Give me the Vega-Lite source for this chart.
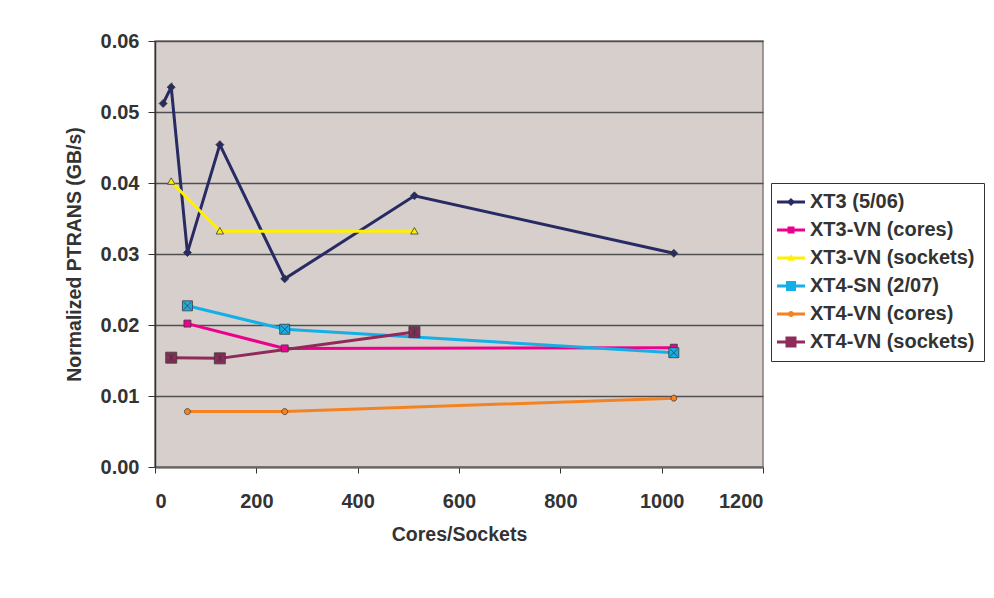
{
  "$schema": "https://vega.github.io/schema/vega-lite/v6.json",
  "width": 608,
  "height": 426,
  "autosize": {"type": "none"},
  "padding": {"left": 155, "top": 41, "right": 231, "bottom": 131},
  "background": "#ffffff",
  "config": {
    "font": "Liberation Sans",
    "view": {"fill": "#d7cfcc", "stroke": "#857c7a", "strokeWidth": 1.5},
    "axis": {
      "labelFont": "Liberation Sans",
      "labelFontWeight": "bold",
      "labelFontSize": 20,
      "labelColor": "#333333",
      "titleFont": "Liberation Sans",
      "titleFontWeight": "bold",
      "titleFontSize": 19.5,
      "titleColor": "#333333"
    },
    "legend": {
      "labelFont": "Liberation Sans",
      "labelFontWeight": "bold",
      "labelFontSize": 20,
      "labelColor": "#333333",
      "labelLimit": 300
    }
  },
  "data": {
    "values": [
      {"series": "XT3 (5/06)", "n": 16, "bw": 0.0512},
      {"series": "XT3 (5/06)", "n": 32, "bw": 0.0535},
      {"series": "XT3 (5/06)", "n": 64, "bw": 0.0302},
      {"series": "XT3 (5/06)", "n": 128, "bw": 0.0454},
      {"series": "XT3 (5/06)", "n": 256, "bw": 0.0265},
      {"series": "XT3 (5/06)", "n": 512, "bw": 0.0382},
      {"series": "XT3 (5/06)", "n": 1024, "bw": 0.0301},
      {"series": "XT3-VN (cores)", "n": 64, "bw": 0.0202},
      {"series": "XT3-VN (cores)", "n": 256, "bw": 0.0167},
      {"series": "XT3-VN (cores)", "n": 1024, "bw": 0.0168},
      {"series": "XT3-VN (sockets)", "n": 32, "bw": 0.0402},
      {"series": "XT3-VN (sockets)", "n": 128, "bw": 0.0332},
      {"series": "XT3-VN (sockets)", "n": 512, "bw": 0.0332},
      {"series": "XT4-SN (2/07)", "n": 64, "bw": 0.0227},
      {"series": "XT4-SN (2/07)", "n": 256, "bw": 0.0194},
      {"series": "XT4-SN (2/07)", "n": 1024, "bw": 0.0161},
      {"series": "XT4-VN (cores)", "n": 64, "bw": 0.0078},
      {"series": "XT4-VN (cores)", "n": 256, "bw": 0.0078},
      {"series": "XT4-VN (cores)", "n": 1024, "bw": 0.0097},
      {"series": "XT4-VN (sockets)", "n": 32, "bw": 0.0154},
      {"series": "XT4-VN (sockets)", "n": 128, "bw": 0.0153},
      {"series": "XT4-VN (sockets)", "n": 512, "bw": 0.0190}
    ]
  },
  "encoding": {
    "x": {
      "field": "n",
      "type": "quantitative",
      "scale": {"domain": [0, 1200], "nice": false, "zero": true},
      "axis": {
        "title": "Cores/Sockets",
        "values": [0, 200, 400, 600, 800, 1000, 1200],
        "format": "d",
        "grid": false,
        "domainColor": "#666666",
        "domainWidth": 2,
        "tickColor": "#333333",
        "tickWidth": 1,
        "tickSize": 6,
        "labelPadding": 18,
        "titlePadding": 14
      }
    },
    "y": {
      "field": "bw",
      "type": "quantitative",
      "scale": {"domain": [0, 0.06], "nice": false},
      "axis": {
        "title": "Normalized PTRANS (GB/s)",
        "values": [0, 0.01, 0.02, 0.03, 0.04, 0.05, 0.06],
        "format": ".2f",
        "grid": true,
        "gridColor": "#4f4f4f",
        "gridWidth": 1.5,
        "domainColor": "#333333",
        "domainWidth": 1.5,
        "tickColor": "#333333",
        "tickWidth": 1,
        "tickSize": 7,
        "labelPadding": 9,
        "titlePadding": 16
      }
    }
  },
  "layer": [
    {
      "mark": {"type": "line", "strokeCap": "butt", "strokeJoin": "miter"},
      "encoding": {
        "color": {
          "field": "series",
          "type": "nominal",
          "scale": {
            "domain": ["XT3 (5/06)", "XT3-VN (cores)", "XT3-VN (sockets)", "XT4-SN (2/07)", "XT4-VN (cores)", "XT4-VN (sockets)"],
            "range": ["#272a63", "#ec008c", "#fff000", "#16aee6", "#f58220", "#8e2b5a"]
          },
          "legend": {
            "title": null,
            "orient": "none",
            "legendX": 616,
            "legendY": 142,
            "padding": 9,
            "rowPadding": 8,
            "symbolType": "M-2.8,0H2.8",
            "symbolSize": 100,
            "symbolOffset": 1,
            "labelOffset": 9,
            "labelOpacity": 0,
            "fillColor": "#ffffff",
            "strokeColor": "#333333"
          }
        },
        "strokeWidth": {
          "field": "series",
          "type": "nominal",
          "scale": {
            "domain": ["XT3 (5/06)", "XT3-VN (cores)", "XT3-VN (sockets)", "XT4-SN (2/07)", "XT4-VN (cores)", "XT4-VN (sockets)"],
            "range": [3, 3, 3, 3, 2, 2]
          },
          "legend": {
            "title": null,
            "orient": "none",
            "legendX": 616,
            "legendY": 142,
            "padding": 9,
            "rowPadding": 8,
            "symbolType": "M-2.8,0H2.8",
            "symbolSize": 100,
            "symbolOffset": 1,
            "labelOffset": 9,
            "labelOpacity": 0,
            "fillColor": "#ffffff",
            "strokeColor": "#333333"
          }
        }
      }
    },
    {
      "mark": {"type": "point", "filled": true, "opacity": 1, "size": 100, "stroke": "#3a3a3a", "strokeWidth": 0.8},
      "encoding": {
        "shape": {
          "field": "series",
          "type": "nominal",
          "scale": {
            "range": [
              "M0,-0.8L0.8,0L0,0.8L-0.8,0Z",
              "M-0.7,-0.7H0.7V0.7H-0.7Z",
              "M0,-0.75L0.75,0.55L-0.75,0.55Z",
              "M-1,-1H1V1H-1Z M-0.75,-0.75L0.75,0.75 M0.75,-0.75L-0.75,0.75",
              "M-0.6,0A0.6,0.6,0,1,0,0.6,0A0.6,0.6,0,1,0,-0.6,0Z",
              "M-1.1,-1.1H1.1V1.1H-1.1Z M-0.8,-0.8L0.8,0.8 M0.8,-0.8L-0.8,0.8 M0,-0.9V0.9"
            ]
          },
          "legend": {
            "title": null,
            "orient": "none",
            "legendX": 616,
            "legendY": 142,
            "padding": 9,
            "rowPadding": 8,
            "symbolSize": 100,
            "symbolOffset": 1,
            "labelOffset": 9,
            "symbolStrokeColor": "#3a3a3a",
            "symbolStrokeWidth": 0.8
          }
        },
        "fill": {
          "field": "series",
          "type": "nominal",
          "scale": {
            "range": ["#272a63", "#ec008c", "#fff000", "#16aee6", "#f58220", "#8e2b5a"]
          },
          "legend": {
            "title": null,
            "orient": "none",
            "legendX": 616,
            "legendY": 142,
            "padding": 9,
            "rowPadding": 8,
            "symbolSize": 100,
            "symbolOffset": 1,
            "labelOffset": 9,
            "symbolStrokeColor": "#3a3a3a",
            "symbolStrokeWidth": 0.8
          }
        }
      }
    }
  ]
}
